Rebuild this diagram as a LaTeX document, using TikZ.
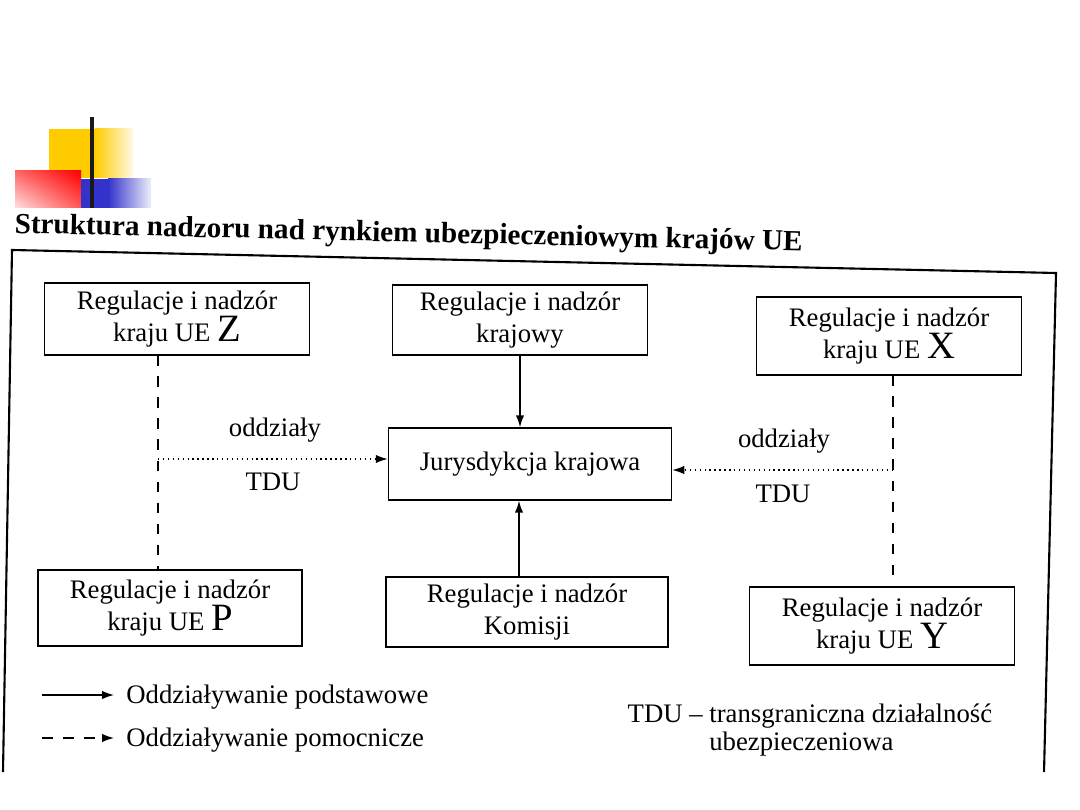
\documentclass[tikz,border=0pt]{standalone}
\usepackage{fontspec}
\setmainfont{Liberation Serif}
\usepackage{tikz}
\usetikzlibrary{positioning,shapes,arrows.meta,calc,backgrounds,shadings}

\definecolor{zolty}{RGB}{255,204,0}
\definecolor{niebieski}{RGB}{51,51,204}
\newcommand{\tekst}{\fontsize{7.6}{9}\selectfont}
\newcommand{\duza}[1]{{\fontsize{11}{9}\selectfont #1}}

\begin{document}
\begin{tikzpicture}[x=0.01cm, y=-0.01cm,
    box/.style={draw, thin, align=center, font=\tekst, inner sep=2pt},
    glowna/.style={thin, -{Latex[length=3.4pt,width=2.4pt]}},
    pomoc/.style={thin, densely dotted, -{Latex[length=3.4pt,width=2.4pt]}},
    pion/.style={thin, dashed},
    opis/.style={font=\tekst}]
    \useasboundingbox (0,0) rectangle (1080,810);

    % ozdobnik
    \fill[zolty] (49,129) rectangle (95,178);
    \shade[left color=zolty, right color=zolty!10] (95,129) rectangle (133,178);
    \shade[upper left=red!60, upper right=red, lower left=red!12, lower right=red!65] (15,171) rectangle (81,208);
    \fill[niebieski] (81,179) rectangle (108,208);
    \shade[left color=niebieski, right color=niebieski!8] (108,179) rectangle (151,208);
    \fill[black!90] (90,117) rectangle (94,208);

    \node[anchor=west, rotate=-1.3, inner sep=0pt, font=\fontsize{8.3}{9}\selectfont\bfseries] (tytul) at (14,226) {Struktura nadzoru nad rynkiem ubezpieczeniowym krajów UE};

    % ramka
    \draw[semithick] (3,772) -- (12,250) -- (1056,273) -- (1044,772);

    % pola
    \node[box, minimum width=2.65cm, minimum height=0.72cm] (ueZ) at (177,319) {Regulacje i nadzór\\kraju UE \duza{Z}};
    \node[box, minimum width=2.55cm, minimum height=0.64cm] (kraj) at (520,320) {Regulacje i nadzór\\krajowy};
    \node[box, minimum width=2.65cm, minimum height=0.78cm] (ueX) at (889,336) {Regulacje i nadzór\\kraju UE \duza{X}};
    \node[box, minimum width=2.83cm, minimum height=0.72cm] (jur) at (530,464) {Jurysdykcja krajowa};
    \node[box, minimum width=2.64cm, minimum height=0.76cm] (ueP) at (170,608) {Regulacje i nadzór\\kraju UE \duza{P}};
    \node[box, minimum width=2.82cm, minimum height=0.66cm] (kom) at (527,612) {Regulacje i nadzór\\Komisji};
    \node[box, minimum width=2.65cm, minimum height=0.78cm] (ueY) at (882,626) {Regulacje i nadzór\\kraju UE \duza{Y}};

    % polaczenia
    \draw[glowna] (kraj.south) -- (kraj.south |- jur.north);
    \draw[glowna] ($(kom.north)+(-8,0)$) -- ($(kom.north |- jur.south)+(-8,0)$);

    \coordinate (lewyG) at (158,355);
    \coordinate (lewyD) at (158,570);
    \coordinate (lewyS) at (158,459);
    \draw[pion] (lewyG) -- (lewyD);
    \draw[pomoc] (lewyS) -- (lewyS -| jur.west);

    \coordinate (prawyG) at (893,375);
    \coordinate (prawyD) at (893,587);
    \coordinate (prawyS) at (893,470);
    \draw[pion] (prawyG) -- (prawyD);
    \draw[pomoc] (prawyS) -- (prawyS -| jur.east);

    \node[opis] (oddzL) at (275,430) {oddziały};
    \node[opis] (tduL) at (273,482) {TDU};
    \node[opis] (oddzP) at (784,441) {oddziały};
    \node[opis] (tduP) at (783,494) {TDU};

    % legenda
    \node[opis, anchor=west] (leg1) at (114,697) {Oddziaływanie podstawowe};
    \node[opis, anchor=west] (leg2) at (114,740) {Oddziaływanie pomocnicze};
    \coordinate (leg1s) at (42,695);
    \coordinate (leg2s) at (42,738);
    \draw[glowna] (leg1s) -- (leg1s -| leg1.west);
    \draw[glowna, dashed] (leg2s) -- (leg2s -| leg2.west);

    \node[opis, anchor=north west, inner sep=0pt] (tdu) at (627,700) {TDU -- \begin{tabular}[t]{@{}l@{}}transgraniczna działalność\\[-1.2pt]ubezpieczeniowa\end{tabular}};
\end{tikzpicture}
\end{document}
